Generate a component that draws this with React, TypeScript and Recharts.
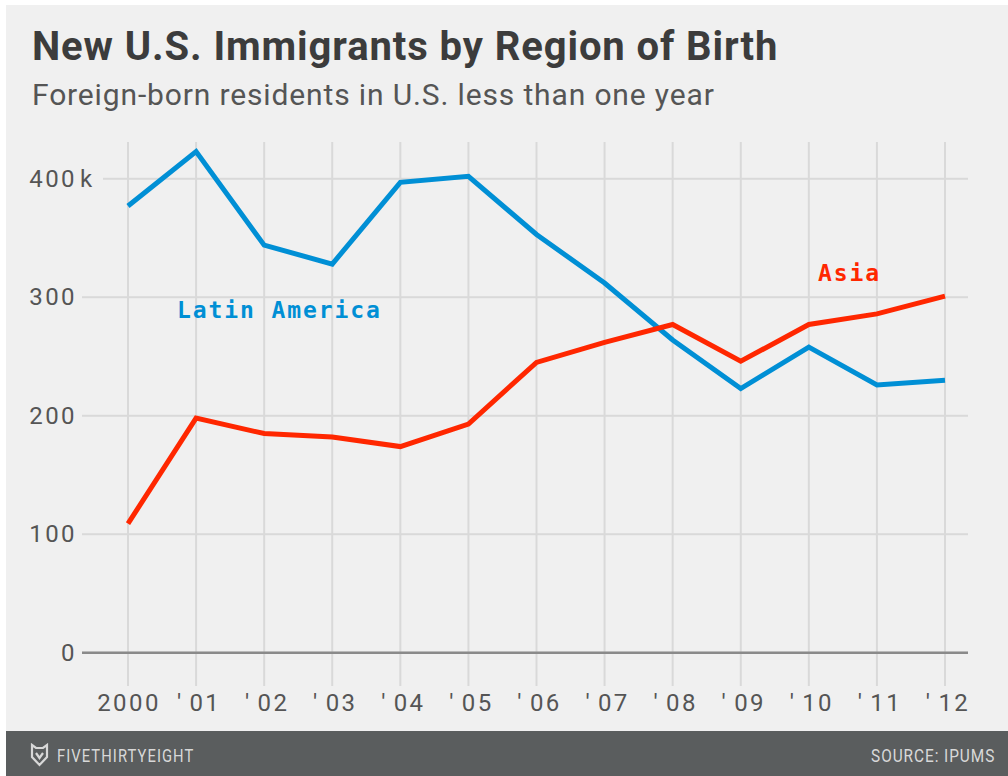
import { LineChart, Line, XAxis, YAxis, CartesianGrid, ReferenceLine } from 'recharts'

const years = ['2000', "'01", "'02", "'03", "'04", "'05", "'06", "'07", "'08", "'09", "'10", "'11", "'12"]
const latinAmerica = [377, 423, 344, 328, 397, 402, 353, 312, 264, 223, 258, 226, 230]
const asia = [109, 198, 185, 182, 174, 193, 245, 262, 277, 246, 277, 286, 301]
const yTicks = [0, 100, 200, 300, 400]

const chartData = years.map((year, i) => ({ year, latinAmerica: latinAmerica[i], asia: asia[i] }))

const tickFont = 'Roboto, sans-serif'
const tickColor = '#555'
const gridColor = '#d9d9d9'

// the 400k gridline starts further right to clear the wider label
const HorizontalGridLine = (props: any) => {
  const isTop = props.y1 < 200
  return <line x1={isTop ? 103 : props.x1} x2={props.x2} y1={props.y1} y2={props.y2} stroke={gridColor} strokeWidth={2} />
}

// numbers line up on the right, the "k" hangs out past them
const YTick = ({ y, payload }: any) => (
  <g fontFamily={tickFont} fontSize={24} fill={tickColor} letterSpacing={2.4}>
    <text x={77} y={y} dy={8} textAnchor="end">{payload.value}</text>
    {payload.value === 400 && <text x={80} y={y} dy={8}>k</text>}
  </g>
)

// short years keep a wide gap after the apostrophe
const XTick = ({ x, payload }: any) => {
  const label: string = payload.value
  const short = label.startsWith("'")
  return (
    <text x={short ? x + 3 : x + 1} y={711} textAnchor="middle" fontFamily={tickFont} fontSize={24} fill={tickColor} letterSpacing={2.4}>
      {short ? <>'<tspan dx={6}>{label.slice(1)}</tspan></> : label}
    </text>
  )
}

export default function App() {
  return (
    <div style={{ position: 'absolute', left: 0, top: 0, width: 1008, height: 776, background: '#fff', overflow: 'hidden' }}>
      <div style={{ position: 'absolute', left: 6, top: 5, width: 1002, height: 771, background: '#f0f0f0' }} />

      <div style={{
        position: 'absolute', left: 32, top: 24, fontFamily: 'Roboto, sans-serif', fontWeight: 700,
        fontSize: 40, lineHeight: '46px', color: '#3c3c3c', letterSpacing: 0.9, whiteSpace: 'nowrap',
      }}>New U.S. Immigrants by Region of Birth</div>
      <div style={{
        position: 'absolute', left: 32, top: 77, fontFamily: 'Roboto, sans-serif', fontWeight: 400,
        fontSize: 30, lineHeight: '36px', color: '#555', letterSpacing: 0.86, whiteSpace: 'nowrap',
      }}>Foreign-born residents in U.S. less than one year</div>

      <div style={{ position: 'absolute', left: 0, top: 0 }}>
        <LineChart width={1008} height={776} data={chartData} margin={{ top: 142, right: 40, bottom: 0, left: 0 }}>
          <CartesianGrid
            stroke={gridColor}
            strokeWidth={2}
            horizontal={HorizontalGridLine}
            horizontalValues={yTicks}
            verticalValues={years}
          />
          <XAxis
            dataKey="year"
            scale="point"
            padding={{ left: 46, right: 23 }}
            axisLine={false}
            tickLine={false}
            interval={0}
            height={90}
            tick={XTick}
          />
          <YAxis
            type="number"
            domain={[-28, 431]}
            ticks={yTicks}
            axisLine={false}
            tickLine={false}
            width={82}
            tick={YTick}
            allowDataOverflow
          />
          <ReferenceLine y={0} stroke="#8a8a8a" strokeWidth={2.5} />
          <Line dataKey="latinAmerica" stroke="#008fd5" strokeWidth={5} dot={false} isAnimationActive={false} strokeLinejoin="miter" />
          <Line dataKey="asia" stroke="#ff2700" strokeWidth={5} dot={false} isAnimationActive={false} strokeLinejoin="miter" />
        </LineChart>
      </div>

      <div style={{
        position: 'absolute', left: 177, top: 296, fontFamily: '"DejaVu Sans Mono", monospace', fontWeight: 700,
        fontSize: 23, lineHeight: '28px', color: '#008fd5', whiteSpace: 'nowrap', letterSpacing: 1.9,
      }}>Latin America</div>
      <div style={{
        position: 'absolute', left: 818, top: 259, fontFamily: '"DejaVu Sans Mono", monospace', fontWeight: 700,
        fontSize: 23, lineHeight: '28px', color: '#ff2700', whiteSpace: 'nowrap', letterSpacing: 1.9,
      }}>Asia</div>

      <div style={{ position: 'absolute', left: 6, top: 731, width: 1002, height: 45, background: '#5a5d5e' }} />
      <svg style={{ position: 'absolute', left: 30, top: 743 }} width={19} height={24} viewBox="0 0 19 24">
        <path d="M2 2 L6 5 L13 5 L17 2 L17 14 L9.5 22 L2 14 Z M6 10 L9.5 15 L13 10" fill="none" stroke="#d8d8d8" strokeWidth={2.2} />
      </svg>
      <div style={{
        position: 'absolute', left: 57, top: 744, fontFamily: 'Roboto, sans-serif', fontSize: 18,
        lineHeight: '24px', color: '#d8d8d8', letterSpacing: 1.3, whiteSpace: 'nowrap',
        transform: 'scaleX(0.82)', transformOrigin: 'left center',
      }}>FIVETHIRTYEIGHT</div>
      <div style={{
        position: 'absolute', right: 13, top: 744, fontFamily: 'Roboto, sans-serif', fontSize: 18,
        lineHeight: '24px', color: '#d8d8d8', letterSpacing: 1.1, whiteSpace: 'nowrap',
        transform: 'scaleX(0.855)', transformOrigin: 'right center',
      }}>SOURCE: IPUMS</div>
    </div>
  )
}
